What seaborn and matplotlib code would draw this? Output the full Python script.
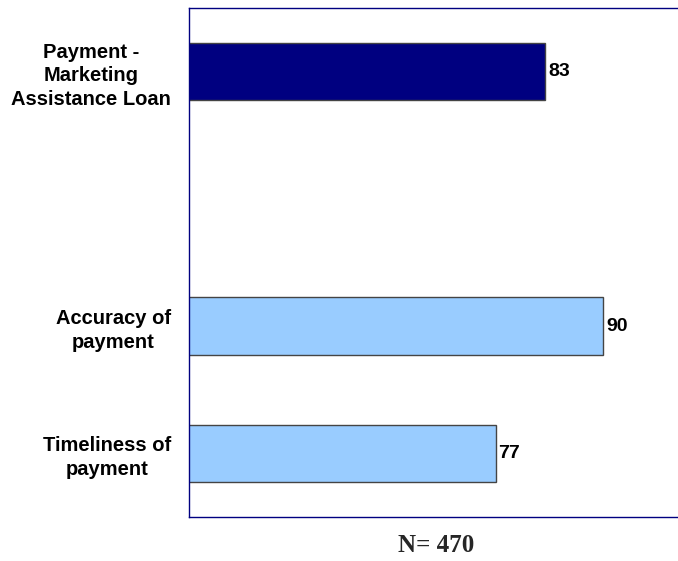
import pandas as pd
import matplotlib.pyplot as plt
import seaborn as sns

categories = ["Payment -\nMarketing\nAssistance Loan", "Accuracy of\npayment", "Timeliness of\npayment"]
scores = [83, 90, 77]
bar_colors = ["#000080", "#99CCFF", "#99CCFF"]
order = [categories[0], " ", categories[1], categories[2]]

df = pd.DataFrame({"item": categories, "score": scores})

sns.set_theme(style="white")
plt.rcParams['font.family'] = ['Liberation Sans', 'DejaVu Sans']

fig = plt.figure(figsize=(6.78, 5.61), dpi=100)
ax = fig.add_axes([189 / 678, 1 - 517 / 561, 1 - 189 / 678, 509 / 561])

sns.barplot(data=df, x="score", y="item", order=order, hue="item",
            palette=dict(zip(categories, bar_colors)), legend=False,
            saturation=1, width=0.45, edgecolor="#444444", linewidth=1, ax=ax)

for val, cat in zip(scores, categories):
    ax.text(val + 0.35, order.index(cat), str(val), va="center", ha="left",
            fontsize=14, fontweight="bold", color="black")

ax.set_xlim(40, 99)
ax.set_ylim(3.5, -0.5)
ax.set_xticks([])
ax.set_xlabel("")
ax.set_ylabel("")
ax.tick_params(axis="y", length=0, pad=13)
for lbl in ax.get_yticklabels():
    lbl.set_fontweight("bold")
    lbl.set_fontsize(14.5)
    lbl.set_multialignment("center")
    lbl.set_linespacing(1.3)
    lbl.set_color("black")

for s in ["left", "top", "bottom"]:
    ax.spines[s].set_color("#000080")
    ax.spines[s].set_linewidth(1)
ax.spines["right"].set_visible(False)

fig.text(436 / 678, 1 - 545 / 561, "N= 470", ha="center", va="center",
         fontsize=18, fontweight="bold", family="Liberation Serif")

fig.savefig("out.png", dpi=100)
